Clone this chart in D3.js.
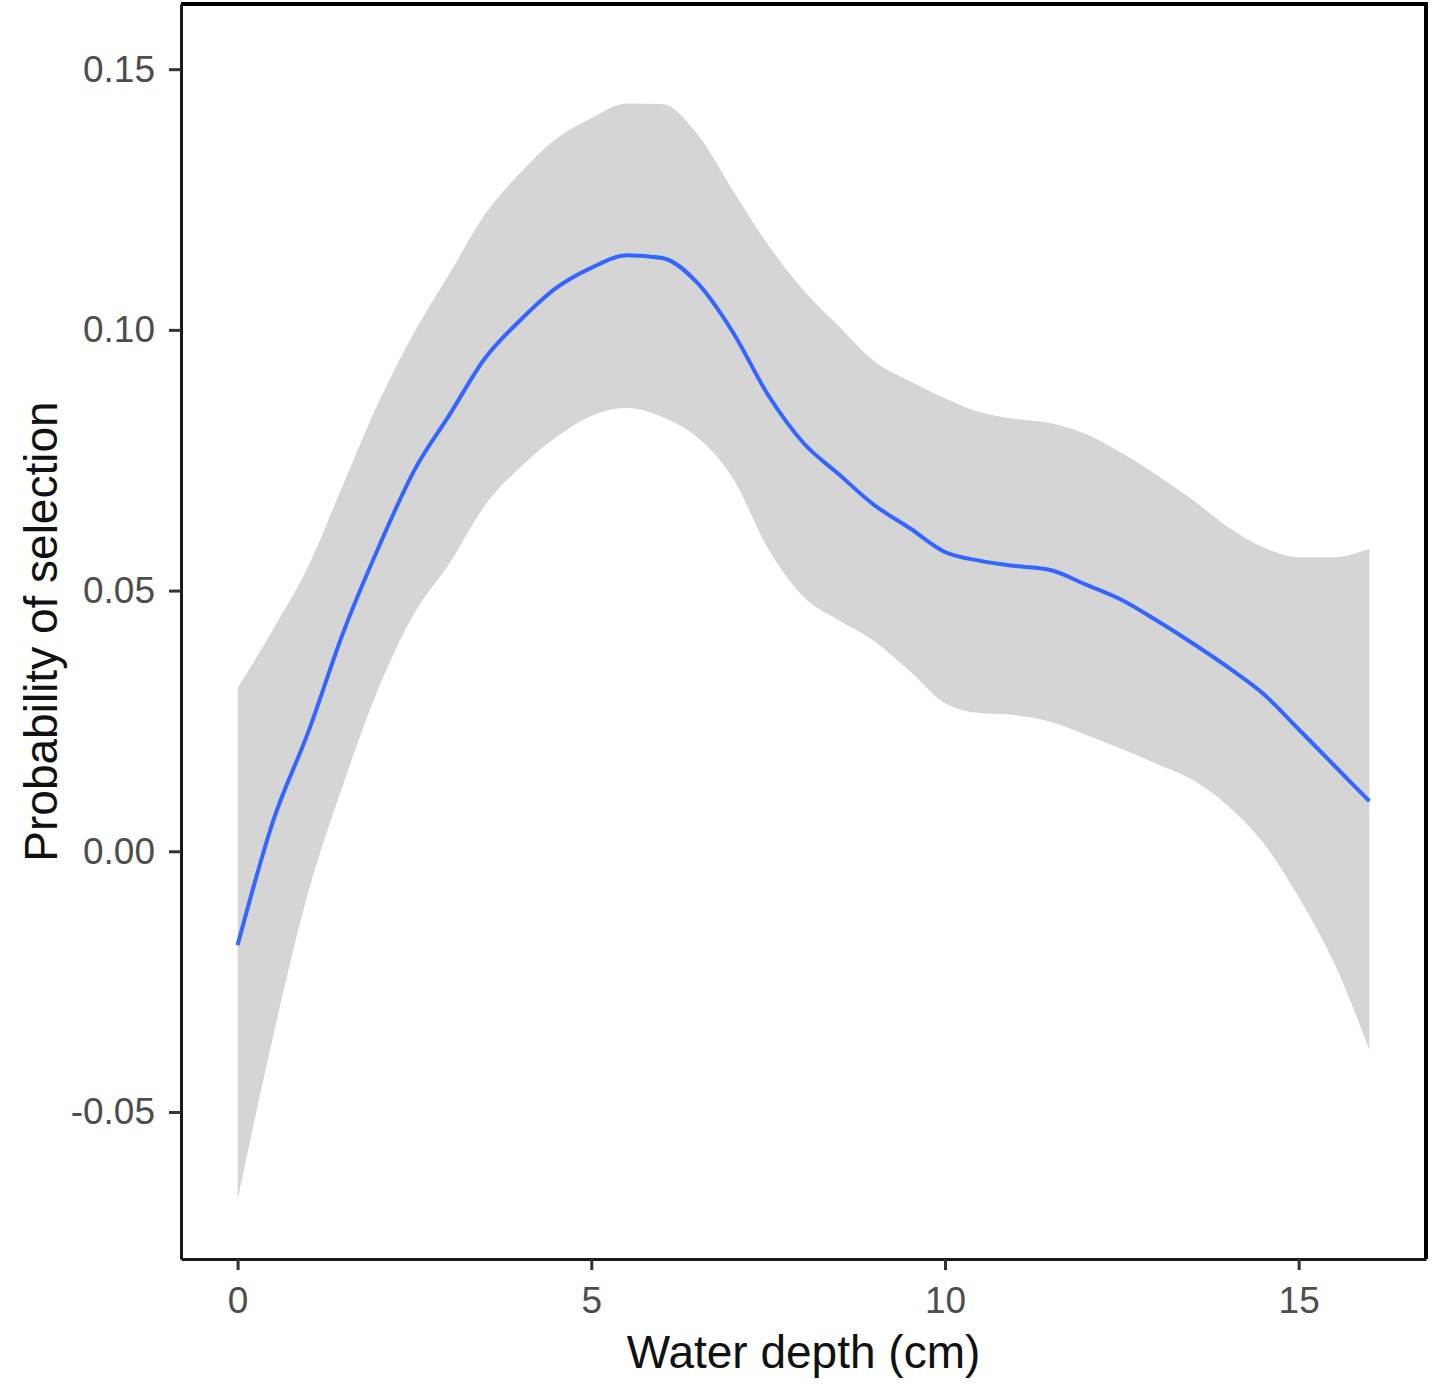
<!DOCTYPE html>
<html>
<head>
<meta charset="utf-8">
<script src="https://cdn.jsdelivr.net/npm/d3@7"></script>
<style>
  body { margin: 0; background: #fff; }
  svg { display: block; font-family: "Liberation Sans", Arial, sans-serif; }
  .tick text { fill: #4d4d4d; font-size: 37px; }
  .tick line { stroke: #333; stroke-width: 3; }
  .domain { stroke: #1a1a1a; stroke-width: 3; }
  .axis-title { fill: #111; font-size: 46px; }
</style>
</head>
<body>
<div id="chart"></div>
<script>
/**
 * CONSTANTS AND GLOBALS
 * */
const width = 1440,
  height = 1384,
  margin = { top: 4, bottom: 125, left: 181, right: 14 };

// water depth (cm), fitted probability and its confidence band
const depth = [0, 0.5, 1, 1.5, 2, 2.5, 3, 3.5, 4, 4.5, 5, 5.5, 6, 6.5, 7, 7.5, 8,
  8.5, 9, 9.5, 10, 10.5, 11, 11.5, 12, 12.5, 13, 13.5, 14, 14.5, 15, 15.5, 16];

const fit = [-0.0180, 0.0057, 0.0229, 0.0422, 0.0585, 0.0731, 0.0838, 0.0946,
  0.1019, 0.1080, 0.1119, 0.1143, 0.1138, 0.1090, 0.0996, 0.0875, 0.0783,
  0.0723, 0.0664, 0.0620, 0.0574, 0.0557, 0.0547, 0.0539, 0.0511, 0.0482,
  0.0442, 0.0399, 0.0353, 0.0302, 0.0234, 0.0165, 0.0096];

const upper = [0.0313, 0.0425, 0.0547, 0.0706, 0.0863, 0.0996, 0.1109, 0.1222,
  0.1302, 0.1366, 0.1406, 0.1434, 0.1433, 0.1375, 0.1268, 0.1163, 0.1076,
  0.1007, 0.0940, 0.0902, 0.0869, 0.0842, 0.0829, 0.0821, 0.0800, 0.0764,
  0.0721, 0.0674, 0.0622, 0.0583, 0.0564, 0.0564, 0.0580];

const lower = [-0.0669, -0.0356, -0.0078, 0.0131, 0.0315, 0.0457, 0.0553, 0.0664,
  0.0737, 0.0794, 0.0835, 0.0850, 0.0833, 0.0794, 0.0716, 0.0580, 0.0488,
  0.0443, 0.0403, 0.0346, 0.0284, 0.0265, 0.0261, 0.0248, 0.0223, 0.0196,
  0.0167, 0.0137, 0.0087, 0.0016, -0.0088, -0.0214, -0.0381];

const xTicks = [0, 5, 10, 15];
const yTicks = [-0.05, 0, 0.05, 0.10, 0.15];
const yTickLabels = ["-0.05", "0.00", "0.05", "0.10", "0.15"];

const xTitle = "Water depth (cm)";
const yTitle = "Probability of selection";

let svg;

init();

function init() {
  const data = depth.map((d, i) => ({ x: d, y: fit[i], lo: lower[i], hi: upper[i] }));

  svg = d3.select("#chart")
    .append("svg")
    .attr("width", width)
    .attr("height", height);

  // scales, padded like ggplot's default expansion
  const xScale = d3.scaleLinear()
    .domain([-0.8, 16.8])
    .range([margin.left, width - margin.right]);

  const yScale = d3.scaleLinear()
    .domain([-0.0782, 0.1625])
    .range([height - margin.bottom, margin.top]);

  // confidence band
  const band = d3.area()
    .x(d => xScale(d.x))
    .y0(d => yScale(d.lo))
    .y1(d => yScale(d.hi))
    .curve(d3.curveMonotoneX);

  svg.append("path")
    .datum(data)
    .attr("fill", "#d5d5d5")
    .attr("d", band);

  // fitted line
  const line = d3.line()
    .x(d => xScale(d.x))
    .y(d => yScale(d.y))
    .curve(d3.curveMonotoneX);

  svg.append("path")
    .datum(data)
    .attr("fill", "none")
    .attr("stroke", "#3366ff")
    .attr("stroke-width", 4)
    .attr("stroke-linejoin", "round")
    .attr("d", line);

  // axes
  svg.append("g")
    .attr("transform", `translate(0, ${height - margin.bottom})`)
    .call(d3.axisBottom(xScale)
      .tickValues(xTicks)
      .tickSize(11)
      .tickSizeOuter(0)
      .tickPadding(17));

  svg.append("g")
    .attr("transform", `translate(${margin.left}, 0)`)
    .call(d3.axisLeft(yScale)
      .tickValues(yTicks)
      .tickFormat((d, i) => yTickLabels[i])
      .tickSize(12)
      .tickSizeOuter(0)
      .tickPadding(14));

  // top and right frame
  const x1 = width - margin.right,
    y0 = margin.top,
    y1 = height - margin.bottom;

  svg.append("path")
    .attr("fill", "none")
    .attr("stroke", "#000")
    .attr("stroke-width", 4)
    .attr("d", `M${margin.left},${y0}H${x1}V${y1}`);

  // axis titles
  svg.append("text")
    .attr("class", "axis-title")
    .attr("x", (margin.left + x1) / 2)
    .attr("y", 1368)
    .attr("text-anchor", "middle")
    .text(xTitle);

  svg.append("text")
    .attr("class", "axis-title")
    .attr("transform", `translate(57, ${(y0 + y1) / 2}) rotate(-90)`)
    .attr("text-anchor", "middle")
    .text(yTitle);
}
</script>
</body>
</html>
